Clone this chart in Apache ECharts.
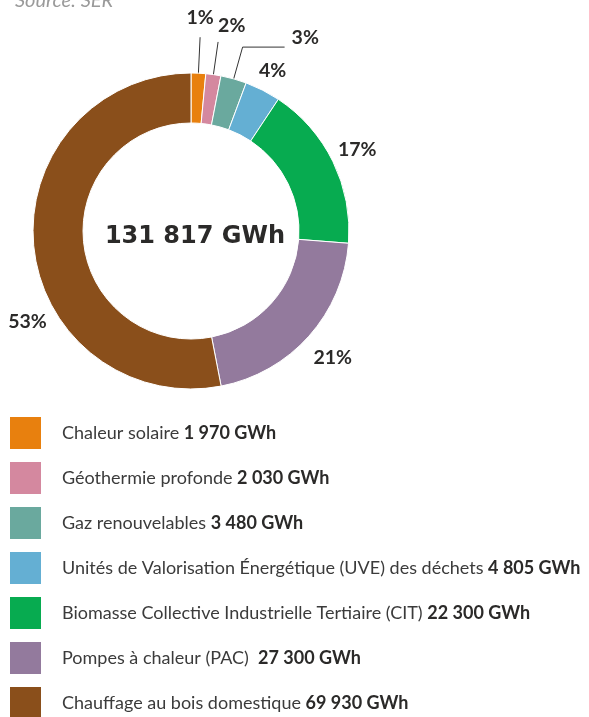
<!DOCTYPE html>
<html><head><meta charset="utf-8">
<script src="https://cdn.jsdelivr.net/npm/echarts@6/dist/echarts.min.js"></script>
<style>html,body{margin:0;padding:0;background:#fff}#c{width:589px;height:717px}</style>
</head><body><div id="c"></div>
<script>
// ---- data ----
const categories = [
  'Chaleur solaire',
  'Géothermie profonde',
  'Gaz renouvelables',
  'Unités de Valorisation Énergétique (UVE) des déchets',
  'Biomasse Collective Industrielle Tertiaire (CIT)',
  'Pompes à chaleur (PAC) ',
  'Chauffage au bois domestique'
];
const values = [1970, 2030, 3480, 4805, 22300, 27300, 69930];
const unit = 'GWh';
const totalLabel = '131 817 GWh';
const sourceText = 'Source: SER';

// ---- styles ----
const colors = ['#E8800E', '#D4889F', '#6AA99E', '#64AFD3', '#07AB50', '#937A9D', '#8A4F1B'];
const CX = 191, CY = 231, R_IN = 108, R_OUT = 158;
const textDark = '#2b2a29';
const FONT = 'Lato';

// label placement (layout style, per slice)
const labelPlacement = [
  { line: true, r0: 150, r1: 194, h: 0, align: 'center', dx: 0, dy: -9 },
  { line: true, r0: 150, r1: 191, h: 0, align: 'left', dx: 0, dy: -6 },
  { line: true, r0: 150, r1: 191, h: 42, align: 'left', dx: 7, dy: 1 },
  { r: 180 },
  { r: 185 },
  { r: 190 },
  { r: 187, angle: 241 }
];

const total = values.reduce((a, b) => a + b, 0);
const midAngles = [];
{ let c = 0; values.forEach(v => { midAngles.push((c + v / 2) / total * 360); c += v; }); }

function fmt(n) { return String(n).replace(/\B(?=(\d{3})+(?!\d))/g, ' '); }

const chart = echarts.init(document.getElementById('c'), null, { renderer: 'canvas' });
chart.setOption({
  animation: false,
  color: colors,
  title: {
    text: sourceText, left: 10, top: -14,
    textStyle: { fontFamily: FONT, fontStyle: 'italic', fontWeight: 'normal', fontSize: 20, color: '#9a9a9a' }
  },
  legend: {
    orient: 'vertical', left: 10, top: 417, height: 600, padding: 0,
    itemWidth: 31, itemHeight: 32, itemGap: 13, icon: 'rect', selectedMode: false,
    itemStyle: { borderWidth: 0 },
    data: categories,
    formatter: function (name) {
      const i = categories.indexOf(name);
      return '{n|' + name + ' }{v|' + fmt(values[i]) + ' ' + unit + '}';
    },
    textStyle: {
      padding: [0, 0, 0, 16],
      rich: {
        n: { fontFamily: FONT, fontSize: 18, color: '#3b3b3b' },
        v: { fontFamily: FONT, fontSize: 18, fontWeight: 'bold', color: textDark }
      }
    }
  },
  graphic: [{
    type: 'text', x: 195, y: 237, silent: true,
    style: { text: totalLabel, align: 'center', verticalAlign: 'middle', fontFamily: 'DejaVu Sans', fontSize: 24, fontWeight: 'bold', fill: textDark }
  }],
  series: [{
    type: 'pie',
    center: [CX, CY],
    radius: [R_IN, R_OUT],
    startAngle: 90,
    clockwise: true,
    avoidLabelOverlap: false,
    itemStyle: { borderColor: '#ffffff', borderWidth: 1 },
    label: {
      show: true, position: 'outside',
      formatter: p => Math.round(p.percent) + '%',
      fontFamily: FONT, fontSize: 19.5, fontWeight: 'bold', color: textDark
    },
    labelLine: { show: true, length: 20, length2: 0, lineStyle: { color: '#333', width: 1 } },
    emphasis: { disabled: true },
    data: categories.map((name, i) => ({ name: name, value: values[i], labelLine: { show: !!labelPlacement[i].line } })),
    labelLayout: function (p) {
      const i = p.dataIndex;
      const cfg = labelPlacement[i];
      const a = (cfg.angle != null ? cfg.angle : midAngles[i]) * Math.PI / 180;
      const pt = r => [CX + r * Math.sin(a), CY - r * Math.cos(a)];
      if (cfg.line) {
        const s = pt(cfg.r0), m = pt(cfg.r1);
        const e = [m[0] + cfg.h, m[1]];
        return {
          x: e[0] + cfg.dx, y: e[1] + cfg.dy,
          align: cfg.align, verticalAlign: 'bottom',
          labelLinePoints: [s, m, e]
        };
      }
      const c = pt(cfg.r);
      return { x: c[0], y: c[1], align: 'center', verticalAlign: 'middle' };
    }
  }]
});
</script></body></html>
